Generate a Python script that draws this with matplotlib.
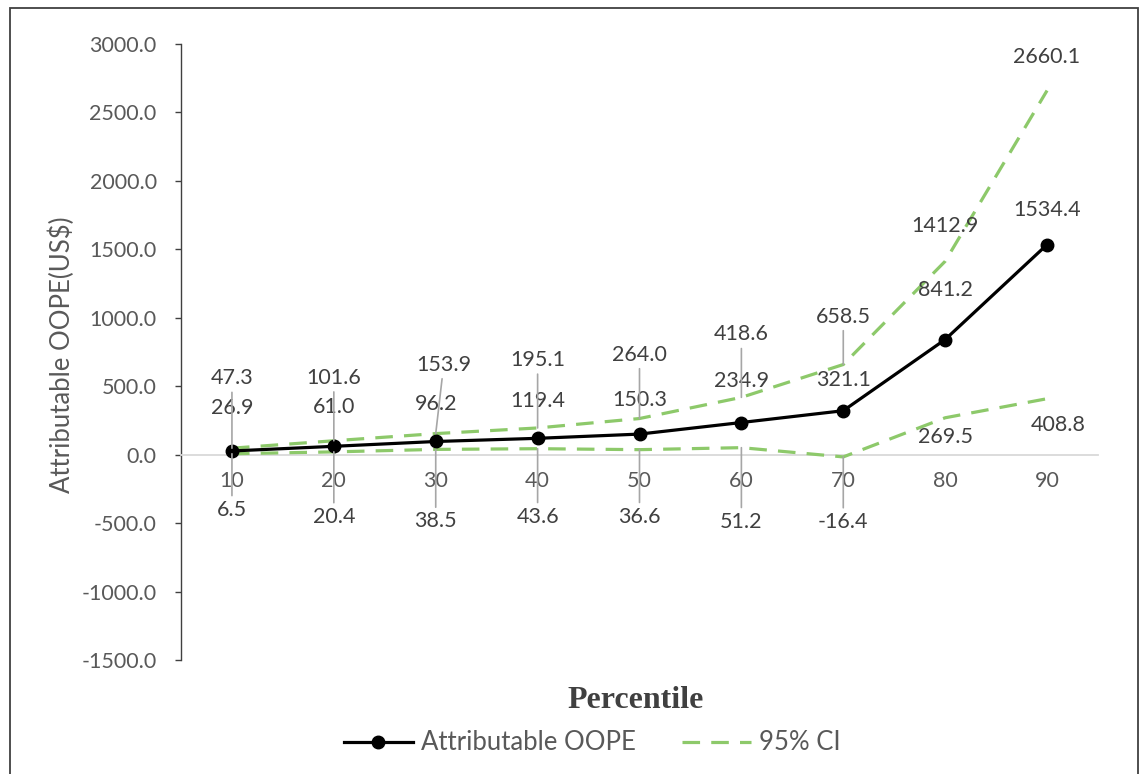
import matplotlib
matplotlib.use("Agg")
import matplotlib.pyplot as plt
from matplotlib.patches import Rectangle

plt.rcParams['font.family'] = ['Lato', 'DejaVu Sans']

percentile = ['10', '20', '30', '40', '50', '60', '70', '80', '90']
oope = [26.9, 61.0, 96.2, 119.4, 150.3, 234.9, 321.1, 841.2, 1534.4]
ci_upper = [47.3, 101.6, 153.9, 195.1, 264.0, 418.6, 658.5, 1412.9, 2660.1]
ci_lower = [6.5, 20.4, 38.5, 43.6, 36.6, 51.2, -16.4, 269.5, 408.8]

# label placement (pixel offsets from the point) and whether a leader line is drawn
main_off = [(0, 43), (0, 39), (0, 37), (0, 37), (0, 34), (0, 42), (0, 31), (0, 50), (0, 35)]
upper_off = [(0, 70), (0, 63), (8, 69), (0, 68), (0, 64), (0, 63), (0, 48), (0, 35), (0, 34)]
lower_off = [(0, -56), (0, -65), (0, -72), (0, -68), (0, -67), (0, -74), (0, -65), (0, -19), (11, -26)]
leader = [True] * 7 + [False] * 2

green = '#8DC96A'
label_col = '#404040'
tick_col = '#595959'

fig = plt.figure(figsize=(11.44, 7.74), dpi=100)
ax = fig.add_axes([181 / 1144, 1 - 660 / 774, (1098 - 181) / 1144, (660 - 44) / 774])

x = list(range(len(percentile)))
ax.plot(x, oope, color='black', lw=2.3, marker='o', markersize=9,
        label='Attributable OOPE', zorder=4)
ax.plot(x, ci_upper, color=green, lw=2.3, dashes=(5.5, 3.5), label='95% CI', zorder=3)
ax.plot(x, ci_lower, color=green, lw=2.3, dashes=(5.5, 3.5), zorder=3)

ax.set_xlim(-0.5, len(percentile) - 0.5)
ax.set_ylim(-1500, 3000)
ax.set_yticks(range(-1500, 3001, 500))
ax.set_yticklabels([f'{v:.1f}' for v in range(-1500, 3001, 500)])
ax.set_xticks(x)
ax.set_xticklabels(percentile)

for s in ['top', 'right']:
    ax.spines[s].set_visible(False)
ax.spines['left'].set_color('#404040')
ax.spines['left'].set_linewidth(1.0)
ax.spines['bottom'].set_position(('data', 0))
ax.spines['bottom'].set_color('#D9D9D9')
ax.spines['bottom'].set_linewidth(1.3)
ax.tick_params(axis='y', direction='out', length=4.5, width=1.0, color='#404040',
               pad=13, labelsize=15.5, labelcolor=tick_col)
ax.tick_params(axis='x', length=0, pad=12, labelsize=15.5, labelcolor=tick_col)


def put_labels(vals, offs, lines):
    for i, v in enumerate(vals):
        kw = {}
        if lines[i]:
            kw['arrowprops'] = dict(arrowstyle='-', color='#A6A6A6', lw=1.2,
                                    shrinkA=1, shrinkB=0)
        ax.annotate(f'{v:.1f}', (i, v), xytext=offs[i], textcoords='offset pixels',
                    ha='center', va='center', fontsize=15.5, color=label_col,
                    zorder=5, **kw)


put_labels(oope, main_off, [False] * len(oope))
put_labels(ci_upper, upper_off, leader)
put_labels(ci_lower, lower_off, leader)

fig.text(62 / 1144, 1 - 355 / 774, 'Attributable OOPE(US$)', rotation=90,
         ha='center', va='center', fontsize=18.5, color=tick_col)
fig.text(636 / 1144, 1 - 700 / 774, 'Percentile', ha='center', va='center',
         fontsize=23, fontweight='bold', family='Liberation Serif', color='#404040')

fig.legend(loc='center', bbox_to_anchor=(592 / 1144, 1 - 743 / 774), ncol=2,
           frameon=False, fontsize=18.5, handlelength=2.7, columnspacing=1.8,
           handletextpad=0.3, labelcolor=tick_col)

# outer frame around the chart
fig.patches.append(Rectangle((10 / 1144, -0.02), 1128 / 1144, 1.02 - 8 / 774,
                             transform=fig.transFigure, fill=False,
                             edgecolor='#404040', lw=1.3))

fig.savefig('out.png', dpi=100)
